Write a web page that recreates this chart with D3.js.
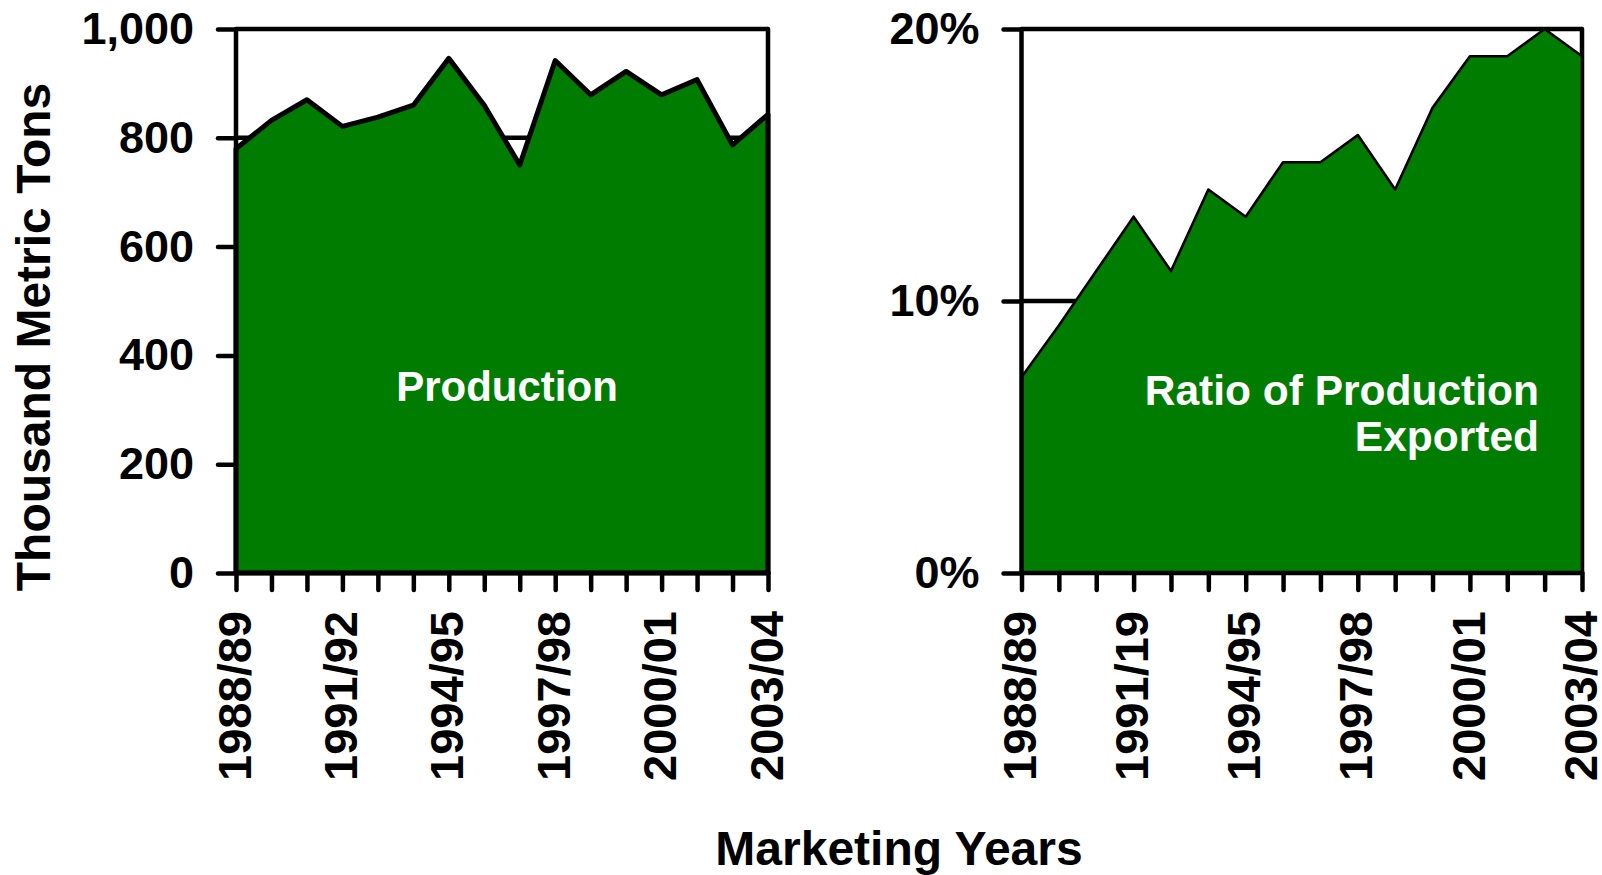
<!DOCTYPE html>
<html>
<head>
<meta charset="utf-8">
<script src="https://cdn.jsdelivr.net/npm/d3@7"></script>
<style>
  html, body { margin: 0; padding: 0; background: #fff; }
  svg { display: block; }
  text { font-family: "Liberation Sans", Arial, sans-serif; font-weight: bold; }
</style>
</head>
<body>
<svg id="chart" width="1602" height="875"></svg>
<script>
// ---- data ----
const years = ["1988/89","1989/90","1990/91","1991/92","1992/93","1993/94","1994/95","1995/96",
               "1996/97","1997/98","1998/99","1999/00","2000/01","2001/02","2002/03","2003/04"];
const production = [780, 832, 870, 821, 838, 860, 946, 860, 750, 942, 879, 922, 879, 907, 787, 843];
const exportRatio = [7.2, 9.1, 11.1, 13.1, 11.1, 14.1, 13.1, 15.1, 15.1, 16.1, 14.1, 17.1, 19.0, 19.0, 20.0, 19.0];
const leftTickLabels = ["1988/89","1991/92","1994/95","1997/98","2000/01","2003/04"];
const rightTickLabels = ["1988/89","1991/19","1994/95","1997/98","2000/01","2003/04"];
const leftYTicks = [0, 200, 400, 600, 800, 1000];
const rightYTicks = [0, 10, 20];

const GREEN = "#007c00";
const svg = d3.select("#chart");

function panel(opts) {
  const {x0, x1, y0, y1, values, yMax, yTicks, yFmt, tickLabels, lineW} = opts;
  const g = svg.append("g");
  const x = d3.scalePoint().domain(years).range([x0, x1]);
  const y = d3.scaleLinear().domain([0, yMax]).range([y1, y0]);

  // gridlines
  g.append("g").selectAll("line").data(yTicks.filter(d => d > 0)).join("line")
    .attr("x1", x0).attr("x2", x1)
    .attr("y1", d => y(d)).attr("y2", d => y(d))
    .attr("stroke", "#000").attr("stroke-width", 4.5);
  // right border
  g.append("line").attr("x1", x1).attr("x2", x1).attr("y1", y0).attr("y2", y1)
    .attr("stroke", "#000").attr("stroke-width", 4.5).attr("stroke-linecap", "round");

  // area
  const area = d3.area().x((d, i) => x(years[i])).y0(y(0)).y1(d => y(d));
  g.append("path").datum(values).attr("d", area)
    .attr("fill", GREEN).attr("stroke", "#000").attr("stroke-width", lineW)
    .attr("stroke-linejoin", "round");

  // y axis
  const ya = g.append("g").attr("transform", `translate(${x0},0)`)
    .call(d3.axisLeft(y).tickValues(yTicks).tickFormat(yFmt).tickSize(18).tickPadding(24));
  ya.select(".domain").attr("d", `M0,${y0}V${y1}`).attr("stroke-width", 4.5).attr("stroke-linecap", "round");
  ya.selectAll(".tick line").attr("stroke-width", 4.5).attr("stroke-linecap", "round");
  ya.selectAll(".tick text").attr("font-size", 45).attr("fill", "#000")
    .style("font-family", "'Liberation Sans', Arial, sans-serif").style("font-weight", "bold");

  // x axis
  const xa = g.append("g").attr("transform", `translate(0,${y1})`)
    .call(d3.axisBottom(x).tickSize(17).tickFormat((d, i) => i % 3 === 0 ? tickLabels[i / 3] : ""));
  xa.select(".domain").attr("d", `M${x0},0H${x1}`).attr("stroke-width", 4.5).attr("stroke-linecap", "round");
  xa.selectAll(".tick line").attr("stroke-width", 4.5).attr("stroke-linecap", "round");
  xa.selectAll(".tick text")
    .attr("font-size", 47).attr("fill", "#000")
    .style("font-family", "'Liberation Sans', Arial, sans-serif").style("font-weight", "bold")
    .attr("text-anchor", "end")
    .attr("transform", "rotate(-90)")
    .attr("x", -38).attr("y", 0).attr("dy", "0.3em");
  return g;
}

panel({x0: 236, x1: 768, y0: 29, y1: 573, values: production, yMax: 1000,
       yTicks: leftYTicks, yFmt: d3.format(","), tickLabels: leftTickLabels, lineW: 5});
panel({x0: 1021.5, x1: 1582, y0: 29, y1: 573, values: exportRatio, yMax: 20,
       yTicks: rightYTicks, yFmt: d => d + "%", tickLabels: rightTickLabels, lineW: 2.6});

// series labels
svg.append("text").attr("x", 507).attr("y", 386).attr("dy", "0.35em")
  .attr("text-anchor", "middle").attr("font-size", 42).attr("fill", "#fff").text("Production");
svg.append("text").attr("x", 1539).attr("y", 390).attr("dy", "0.35em")
  .attr("text-anchor", "end").attr("font-size", 42.5).attr("fill", "#fff").text("Ratio of Production");
svg.append("text").attr("x", 1539).attr("y", 436).attr("dy", "0.35em")
  .attr("text-anchor", "end").attr("font-size", 42.5).attr("fill", "#fff").text("Exported");

// axis titles
svg.append("text").attr("transform", "translate(33,337) rotate(-90)").attr("dy", "0.35em")
  .attr("text-anchor", "middle").attr("font-size", 48).attr("fill", "#000").text("Thousand Metric Tons");
svg.append("text").attr("x", 899).attr("y", 848).attr("dy", "0.35em")
  .attr("text-anchor", "middle").attr("font-size", 48).attr("fill", "#000").text("Marketing Years");
</script>
</body>
</html>
